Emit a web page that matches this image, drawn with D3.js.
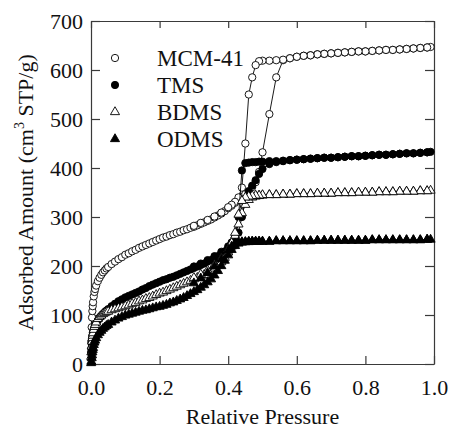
<!doctype html>
<html>
    <head>
        <script src="https://cdn.jsdelivr.net/npm/d3@7"></script>
        <style type="text/css">
            body    {
                margin:0;
                background:#ffffff;
            }
            text    {
                font-family:"Liberation Serif","Times New Roman",serif;
                fill:#111111;
            }
            .axis path, .axis line  {
                stroke:#3a3a3a;
                stroke-width:1.2px;
            }
            .axis text  {
                font-size:22px;
            }
        </style>
    </head>
    <body>
        <script>

            //series names, in legend order
            var seriesNames = ["MCM-41","TMS","BDMS","ODMS"];

            //relative pressure of the adsorption points
            var pAds = [0.0005,0.001,0.002,0.003,0.004,0.005,0.006,0.008,0.01,0.012,0.015,
                0.02,0.025,0.03,0.035,0.04,0.045,0.05,0.06,0.07,0.08,0.09,
                0.10,0.11,0.12,0.13,0.14,0.15,0.16,0.17,0.18,0.19,0.20,0.21,0.22,0.23,0.24,0.25,
                0.26,0.27,0.28,0.29,0.30,0.31,0.32,0.33,0.34,0.35,0.36,0.37,0.38,0.39,0.40,
                0.41,0.42,0.43,0.44,0.45,0.46,0.47,0.48,0.49,0.50,
                0.52,0.54,0.56,0.58,0.60,0.62,0.64,0.66,0.68,0.70,0.72,0.74,0.76,0.78,0.80,
                0.82,0.84,0.86,0.88,0.90,0.92,0.94,0.96,0.98,0.99];

            //relative pressure of the desorption points
            var pDes = [0.98,0.96,0.94,0.92,0.90,0.88,0.86,0.84,0.82,0.80,0.78,0.76,0.74,0.72,
                0.70,0.68,0.66,0.64,0.62,0.60,0.58,0.56,0.54,0.52,
                0.50,0.49,0.48,0.47,0.46,0.45,0.44,0.43,0.42,0.41,0.40,
                0.38,0.36,0.34,0.32,0.30];

            //adsorbed amounts (cm3 STP/g)
            var mcmAds = [25,45,75,95,108,118,126,138,147,153,160,
                169,176,182,187,191,195,198,204,209,214,218,
                223,226,230,233,237,240,243,246,249,252,255,258,260,263,265,268,
                270,273,275,278,280,283,286,289,292,295,299,303,307,312,318,
                323,329,335,341,347,353,361,371,392,432,
                510,585,620,624,627,629,630,632,633,634,635,636,637,638,638,
                639,640,641,641,642,643,644,645,646,647];
            var mcmDes = [646,645,644,643,642,641,641,640,639,638,638,637,636,635,
                634,633,632,630,629,627,624,621,620,619,
                619,618,610,585,550,450,360,340,331,325,320,
                309,301,294,288,282];

            var tmsAds = [22,32,42,50,56,60,64,70,75,79,83,
                89,94,98,102,106,109,112,118,123,128,132,
                136,139,142,145,148,152,155,159,162,165,168,171,173,176,178,181,
                184,187,190,193,196,199,202,205,209,212,216,220,225,230,236,
                243,252,268,300,335,352,364,375,388,398,
                408,412,414,416,417,418,419,420,421,421,422,423,424,424,425,
                426,427,427,428,429,430,430,431,432,433];
            var tmsDes = [432,431,430,430,429,428,427,427,426,425,424,424,423,422,
                421,421,420,419,418,417,416,415,414,414,
                413,413,412,412,411,410,395,300,258,248,240,
                229,220,212,205,199];

            var bdmsAds = [15,24,36,46,53,58,63,70,76,80,85,
                92,96,99,102,104,106,107,110,112,114,116,
                118,120,123,125,128,130,133,135,138,141,144,146,149,152,155,158,
                161,164,167,170,173,176,179,182,186,190,195,201,208,217,228,
                243,262,285,308,325,335,340,342,343,344,
                345,345,346,346,347,347,347,348,348,348,349,349,349,350,350,
                350,351,351,351,352,352,352,353,353,354];
            var bdmsDes = [353,353,352,352,352,351,351,351,350,350,350,349,349,349,
                348,348,348,347,347,347,346,346,345,345,
                345,344,344,343,342,340,333,305,268,247,234,
                216,202,191,183,176];

            var odmsAds = [2,5,12,18,24,29,33,39,44,48,53,
                59,64,68,72,75,78,80,85,89,93,96,
                99,101,103,105,107,109,110,112,114,116,117,119,121,124,126,129,
                132,135,139,143,147,151,156,161,167,173,181,190,200,211,222,
                233,241,246,248,249,249,250,250,250,250,
                250,251,251,251,251,251,251,252,252,252,252,252,252,252,252,
                253,253,253,253,253,253,253,253,254,254];
            var odmsDes = [254,253,253,253,253,253,253,253,253,252,252,252,252,252,
                252,252,252,251,251,251,251,251,251,250,
                250,250,250,250,250,249,249,248,246,240,232,
                214,199,186,175,165];

            //tick values
            var xTicks = [0,0.2,0.4,0.6,0.8,1.0];
            var yTicks = [0,100,200,300,400,500,600,700];

            var width = 450, height = 433;
            var margin = {left:91, right:16, top:21, bottom:69};
            var plotW = width-margin.left-margin.right;
            var plotH = height-margin.top-margin.bottom;

            var svg = d3.select("body").append("svg")
                .attr("width",width)
                .attr("height",height);

            var x = d3.scaleLinear().domain([0,1]).range([margin.left,margin.left+plotW]);
            var y = d3.scaleLinear().domain([0,700]).range([margin.top+plotH,margin.top]);

            //axes, ticks pointing inwards on all four sides
            svg.append("g").attr("class","axis")
                .attr("transform","translate(0,"+y(0)+")")
                .call(d3.axisBottom(x).tickValues(xTicks).tickFormat(d3.format(".1f"))
                    .tickSizeInner(-8).tickSizeOuter(0).tickPadding(15));
            svg.append("g").attr("class","axis")
                .attr("transform","translate(0,"+y(700)+")")
                .call(d3.axisTop(x).tickValues(xTicks).tickFormat("")
                    .tickSizeInner(-7).tickSizeOuter(0));
            svg.append("g").attr("class","axis")
                .attr("transform","translate("+x(0)+",0)")
                .call(d3.axisLeft(y).tickValues(yTicks).tickFormat(d3.format("d"))
                    .tickSizeInner(-9).tickSizeOuter(0).tickPadding(8));
            svg.append("g").attr("class","axis")
                .attr("transform","translate("+x(1)+",0)")
                .call(d3.axisRight(y).tickValues(yTicks).tickFormat("")
                    .tickSizeInner(-9).tickSizeOuter(0));

            svg.selectAll(".axis .tick text").attr("fill","#111");

            //axis titles
            svg.append("text")
                .attr("x",x(0.5))
                .attr("y",424)
                .attr("text-anchor","middle")
                .style("font-size","22px")
                .text("Relative Pressure");

            var yTitle = svg.append("text")
                .attr("transform","translate(33,"+(margin.top+plotH/2)+") rotate(-90)")
                .attr("text-anchor","middle")
                .style("font-size","22px");
            yTitle.append("tspan").text("Adsorbed Amount (cm");
            yTitle.append("tspan").attr("dy","-9").style("font-size","14px").text("3");
            yTitle.append("tspan").attr("dy","9").text(" STP/g)");

            //one entry per series: its branches and its marker
            var series = [
                {name:seriesNames[0], ads:mcmAds, des:mcmDes, shape:d3.symbolCircle, filled:false},
                {name:seriesNames[1], ads:tmsAds, des:tmsDes, shape:d3.symbolCircle, filled:true},
                {name:seriesNames[2], ads:bdmsAds, des:bdmsDes, shape:d3.symbolTriangle, filled:false},
                {name:seriesNames[3], ads:odmsAds, des:odmsDes, shape:d3.symbolTriangle, filled:true}
            ];

            var line = d3.line()
                .x(function(d) { return x(d[0]); })
                .y(function(d) { return y(d[1]); });

            function markerPath(s)  {
                var size = s.shape===d3.symbolCircle ? 42 : 36;
                return d3.symbol().type(s.shape).size(size)();
            }

            series.forEach(function(s) {
                var ads = pAds.map(function(p,i) { return [p,s.ads[i]]; });
                var des = pDes.map(function(p,i) { return [p,s.des[i]]; });
                var g = svg.append("g");

                [ads,des].forEach(function(branch) {
                    g.append("path")
                        .attr("d",line(branch))
                        .attr("fill","none")
                        .attr("stroke","#000")
                        .attr("stroke-width",0.9);
                });

                g.selectAll("path.pt")
                    .data(ads.concat(des))
                    .enter()
                    .append("path")
                    .attr("class","pt")
                    .attr("d",markerPath(s))
                    .attr("transform",function(d) {
                        return "translate("+x(d[0])+","+y(d[1])+")";
                    })
                    .attr("fill",s.filled ? "#000" : "#fff")
                    .attr("stroke","#000")
                    .attr("stroke-width",0.9);
            });

            //legend inside the plot, top left
            var legend = svg.append("g")
                .selectAll("g")
                .data(series)
                .enter()
                .append("g")
                .attr("transform",function(d,i) {
                    return "translate(115,"+(58+i*27)+")";
                });
            legend.append("path")
                .attr("d",function(d) { return markerPath(d); })
                .attr("fill",function(d) { return d.filled ? "#000" : "#fff"; })
                .attr("stroke","#000")
                .attr("stroke-width",0.9);
            legend.append("text")
                .attr("x",42)
                .attr("dy","0.35em")
                .style("font-size","23px")
                .text(function(d) { return d.name; });

        </script>
    </body>
</html>
